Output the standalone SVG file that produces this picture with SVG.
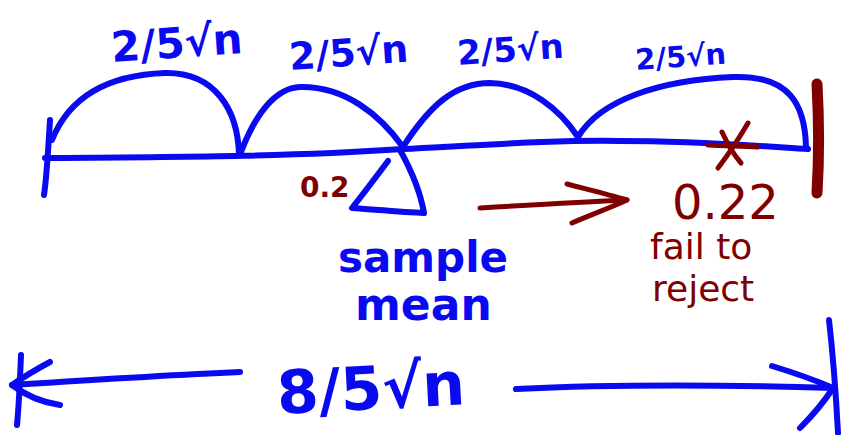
<svg xmlns="http://www.w3.org/2000/svg" width="843" height="435" viewBox="0 0 843 435">
<style>
.b{fill:none;stroke:#0a0af0;stroke-width:6;stroke-linecap:round;stroke-linejoin:round}
.r{fill:none;stroke:#800000;stroke-width:5;stroke-linecap:round;stroke-linejoin:round}
.tb{fill:#0a0af0;font-family:"DejaVu Sans","Liberation Sans",sans-serif;font-weight:bold}
.tr{fill:#800000;font-family:"DejaVu Sans","Liberation Sans",sans-serif}
</style>
<rect width="843" height="435" fill="#ffffff"/>
<g id="numberline">
<path class="b" d="M45,158 C200,157 300,156 403,149 C500,144 560,140 620,141 C700,141 760,146 808,149"/>
<path class="b" d="M50,120 C48,150 47,175 44,195"/>
<path class="b" d="M52,140 C70,95 110,75 165,73 C215,72 238,110 239,155"/>
<path class="b" d="M241,152 C255,115 275,88 300,87 C345,86 380,115 403,147"/>
<path class="b" d="M403,147 C430,105 455,83 490,83 C530,84 560,110 578,137"/>
<path class="b" d="M578,137 C600,100 660,80 733,77 C790,75 805,105 806,147"/>
<path class="b" d="M388,161 C376,177 364,193 352,208 C380,210 405,212 424,213 C420,190 410,168 400,150"/>
</g>
<g id="labels-top">
<text class="tb" x="112" y="62" font-size="42" transform="rotate(-4 112 62)">2/5√n</text>
<text class="tb" x="290" y="70" font-size="38" transform="rotate(-4 290 70)">2/5√n</text>
<text class="tb" x="458" y="65" font-size="34" transform="rotate(-4 458 65)">2/5√n</text>
<text class="tb" x="636" y="70" font-size="29" transform="rotate(-4 636 70)">2/5√n</text>
</g>
<g id="redmarks">
<path class="r" style="stroke-width:11" d="M817,84 C819,120 819,160 817,193"/>
<path class="r" d="M708,145 C725,146 742,146 758,147"/>
<path class="r" d="M748,123 C738,140 728,155 718,168"/>
<path class="r" d="M722,132 C728,145 734,155 741,163"/>
<path class="r" d="M480,208 C530,205 580,202 627,200"/>
<path class="r" d="M567,184 C590,190 610,195 627,200 C610,208 590,215 572,223"/>
<text class="tr" x="300" y="197" font-size="28" font-weight="bold">0.2</text>
<text class="tr" x="672" y="219" font-size="48">0.22</text>
<text class="tr" x="650" y="259" font-size="36">fail to</text>
<text class="tr" x="652" y="301" font-size="36">reject</text>
</g>
<g id="sample-mean">
<text class="tb" x="338" y="272" font-size="42">sample</text>
<text class="tb" x="355" y="320" font-size="44">mean</text>
</g>
<g id="width">
<path class="b" d="M21,355 C20,380 19,405 17,425"/>
<path class="b" d="M12,385 C90,380 170,375 240,372"/>
<path class="b" d="M50,362 C35,370 22,378 12,385 C25,395 40,402 60,405"/>
<path class="b" d="M516,389 C620,384 730,385 833,388"/>
<path class="b" d="M772,366 C795,373 815,380 833,388 C822,405 810,418 800,428"/>
<path class="b" d="M829,320 C833,355 836,395 838,433"/>
<text class="tb" x="278" y="414" font-size="60" transform="rotate(-3 278 414)">8/5√n</text>
</g>
</svg>
